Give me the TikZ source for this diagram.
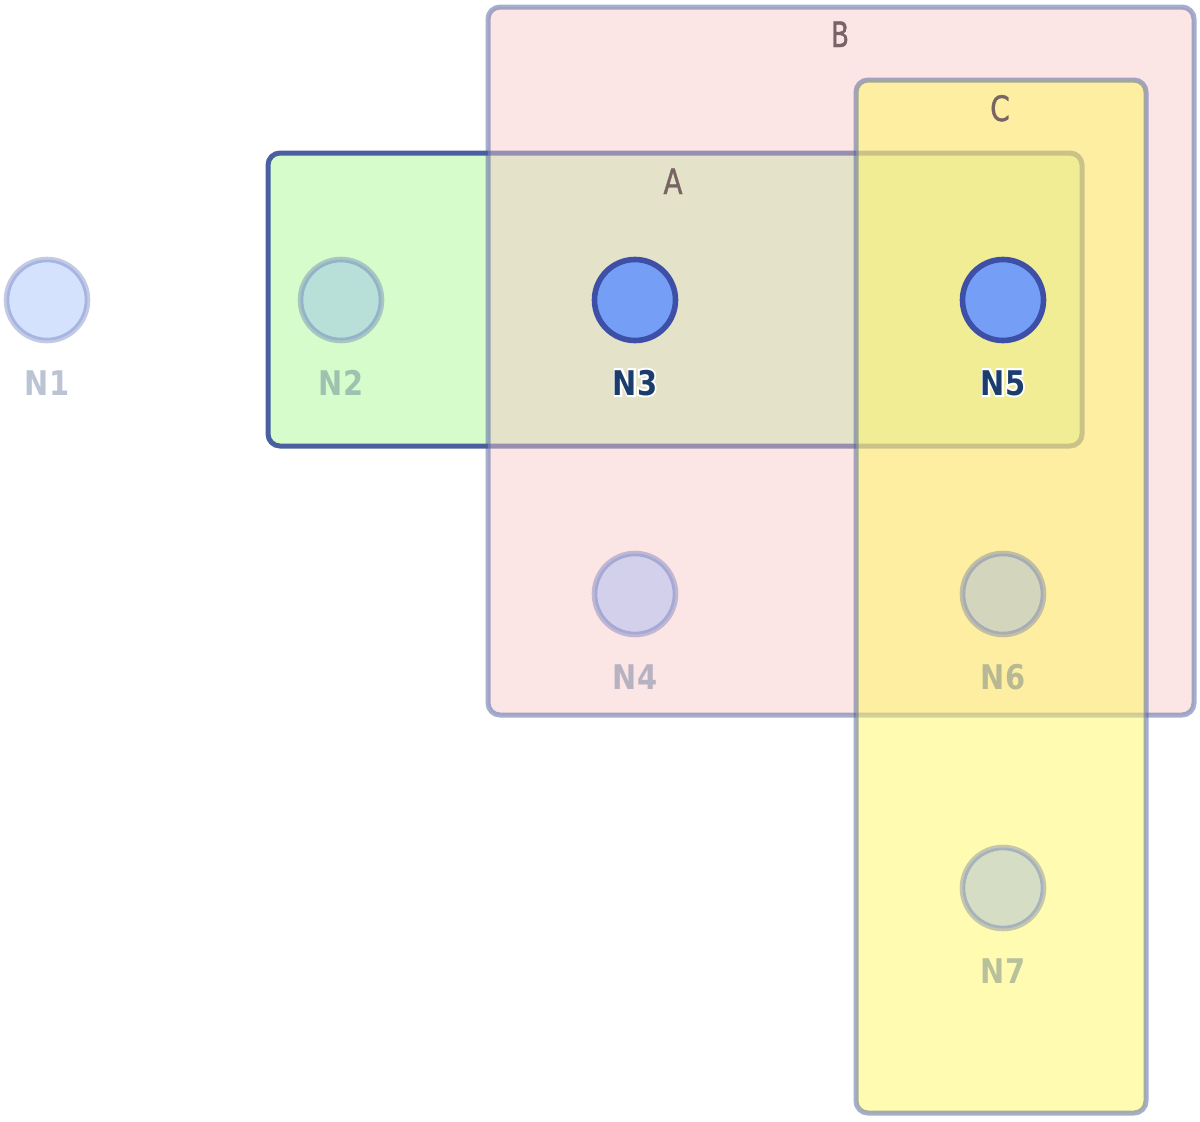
\documentclass[tikz,border=0pt]{standalone}
\usepackage{fontspec}
\newfontfamily\lblfont{DejaVu Sans}
\newfontfamily\halofont{DejaVu Sans Bold}[FakeBold=12]
\newfontfamily\grpfont{DejaVu Sans}[FakeBold=1.2]
\definecolor{nodefill}{HTML}{759EF7}
\definecolor{nodedraw}{HTML}{3D4FA6}
\definecolor{grpdraw}{HTML}{4A5FA0}
\definecolor{afill}{HTML}{D6FCCC}
\definecolor{bfill}{HTML}{F6C7C7}
\definecolor{cfill}{HTML}{FFF761}
\definecolor{txtdark}{HTML}{1A3D6E}
\definecolor{grptxt}{HTML}{786464}
\tikzset{
  grp/.style={draw=grpdraw, line width=2.5pt, rounded corners=6pt},
  fadedgrp/.style={grp, draw opacity=0.5},
  nd/.style={circle, minimum size=40.5pt, inner sep=0pt, fill=nodefill, draw=nodedraw, line width=2.8pt},
  fadednd/.style={nd, fill opacity=0.3, draw opacity=0.3},
  lbl/.style={font=\lblfont\bfseries\fontsize{17}{20}\selectfont, anchor=base, inner sep=0pt},
  halo/.style={font=\halofont\fontsize{17}{20}\selectfont, anchor=base, inner sep=0pt, text=white},
  hilbl/.style={lbl, text=txtdark},
  fadedlbl/.style={lbl, text=txtdark, text opacity=0.3},
  grplbl/.style={font=\grpfont\fontsize{17.5}{20}\selectfont, anchor=base, inner sep=0pt, text=grptxt}
}
\newcommand\nt[1]{\scalebox{0.85}[1]{#1}}
\newcommand\halolabel[3]{%
  \node[halo] (#1h) at #2 {\nt{#3}};
  \node[hilbl] (#1) at #2 {\nt{#3}};}
\begin{document}
\begin{tikzpicture}[x=0.5pt,y=-0.5pt]
\useasboundingbox (0,0) rectangle (1200,1121);
% groups
\draw[grp, fill=afill] (268,153) rectangle (1082,446);
\draw[fadedgrp, fill=bfill, fill opacity=0.46] (488,7) rectangle (1194,715);
\draw[fadedgrp, fill=cfill, fill opacity=0.5] (856,80) rectangle (1146,1113);
\node[grplbl] (gA) at (673,194) {\scalebox{0.8}[1]{A}};
\node[grplbl] (gB) at (840,47) {\scalebox{0.75}[1]{B}};
\node[grplbl] (gC) at (1000,121) {\scalebox{0.8}[1]{C}};
% nodes
\node[fadednd] (n1) at (47,300) {};
\node[fadednd] (n2) at (341,300) {};
\node[nd] (n3) at (635,300) {};
\node[fadednd] (n4) at (635,594) {};
\node[nd] (n5) at (1003,300) {};
\node[fadednd] (n6) at (1003,594) {};
\node[fadednd] (n7) at (1003,888) {};
% labels
\node[fadedlbl] (l1) at (47,395) {\nt{N1}};
\node[fadedlbl] (l2) at (341,395) {\nt{N2}};
\halolabel{l3}{(635,395)}{N3}
\node[fadedlbl] (l4) at (635,689) {\nt{N4}};
\halolabel{l5}{(1003,395)}{N5}
\node[fadedlbl] (l6) at (1003,689) {\nt{N6}};
\node[fadedlbl] (l7) at (1003,983) {\nt{N7}};
\end{tikzpicture}
\end{document}
